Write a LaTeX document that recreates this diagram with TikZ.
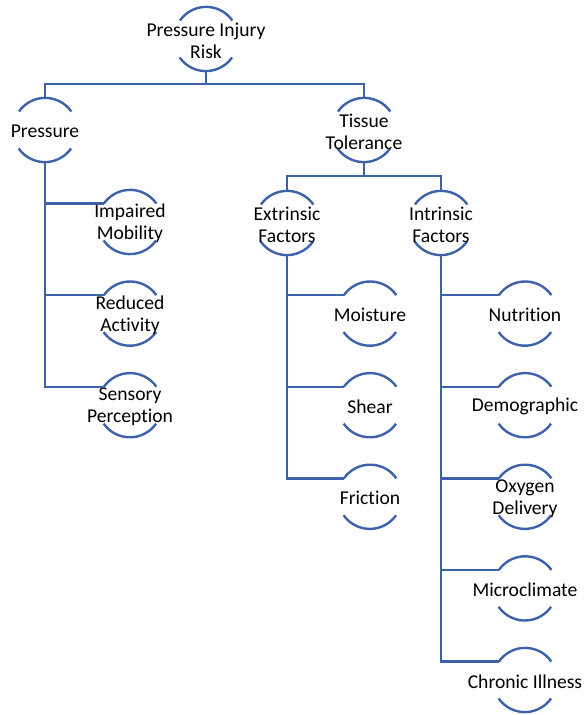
\documentclass[tikz,border=0pt]{standalone}
\usepackage{fontspec}
\setmainfont{Carlito}[RawFeature=-liga]
\definecolor{lineblue}{RGB}{62,98,170}
\begin{document}
\begin{tikzpicture}[x=1pt,y=1pt,
  ring/.style={circle,minimum size=64pt,inner sep=0pt,draw=none},
  lbl/.style={inner sep=0pt,align=center,text=black,yshift=-1.5pt,font=\fontsize{19.6}{22}\selectfont},
  link/.style={draw=lineblue,line width=2.4pt},
  arcline/.style={draw=lineblue,line width=2.4pt}]
\useasboundingbox (0,0) rectangle (584,715);
% ring nodes
\node[ring] (root) at (206,676) {};
\node[ring] (pressure) at (45,585) {};
\node[ring] (tissue) at (364,585) {};
\node[ring] (impaired) at (130,493) {};
\node[ring] (reduced) at (130,401.4) {};
\node[ring] (sensory) at (130,309.8) {};
\node[ring] (extrinsic) at (287,492) {};
\node[ring] (intrinsic) at (441,492) {};
\node[ring] (moisture) at (370,401.4) {};
\node[ring] (shear) at (370,309.8) {};
\node[ring] (friction) at (370,218.2) {};
\node[ring] (nutrition) at (525,401.4) {};
\node[ring] (demographic) at (525,309.8) {};
\node[ring] (oxygen) at (525,218.2) {};
\node[ring] (micro) at (525,126.6) {};
\node[ring] (chronic) at (525,35) {};
% arcs
\foreach \n in {root,pressure,tissue,impaired,reduced,sensory,extrinsic,intrinsic,moisture,shear,friction,nutrition,demographic,oxygen,micro,chronic}{
  \draw[arcline] (\n.35) arc (35:145:32);
  \draw[arcline] (\n.215) arc (215:325:32);
}
% labels
\node[lbl] (root-t) at (root) {Pressure Injury\\Risk};
\node[lbl] (pressure-t) at (pressure) {Pressure};
\node[lbl] (tissue-t) at (tissue) {Tissue\\Tolerance};
\node[lbl] (impaired-t) at (impaired) {Impaired\\Mobility};
\node[lbl] (reduced-t) at (reduced) {Reduced\\Activity};
\node[lbl] (sensory-t) at (sensory) {Sensory\\Perception};
\node[lbl] (extrinsic-t) at (extrinsic) {Extrinsic\\Factors};
\node[lbl] (intrinsic-t) at (intrinsic) {Intrinsic\\Factors};
\node[lbl] (moisture-t) at (moisture) {Moisture};
\node[lbl] (shear-t) at (shear) {Shear};
\node[lbl] (friction-t) at (friction) {Friction};
\node[lbl] (nutrition-t) at (nutrition) {Nutrition};
\node[lbl] (demographic-t) at (demographic) {Demographic};
\node[lbl] (oxygen-t) at (oxygen) {Oxygen\\Delivery};
\node[lbl] (micro-t) at (micro) {Microclimate};
\node[lbl] (chronic-t) at (chronic) {Chronic Illness};
% hierarchy connectors
\draw[link] (root.south) -- ++(0,-13) -| (pressure.north);
\draw[link] (root.south) -- ++(0,-13) -| (tissue.north);
\draw[link] (tissue.south) -- ++(0,-14) -| (extrinsic.north);
\draw[link] (tissue.south) -- ++(0,-14) -| (intrinsic.north);
% side branches
\foreach \c in {impaired,reduced,sensory}{\draw[link] (pressure.south) |- (\c.145);}
\foreach \c in {moisture,shear,friction}{\draw[link] (extrinsic.south) |- (\c.145);}
\foreach \c in {nutrition,demographic,oxygen,micro,chronic}{\draw[link] (intrinsic.south) |- (\c.145);}
\end{tikzpicture}
\end{document}
